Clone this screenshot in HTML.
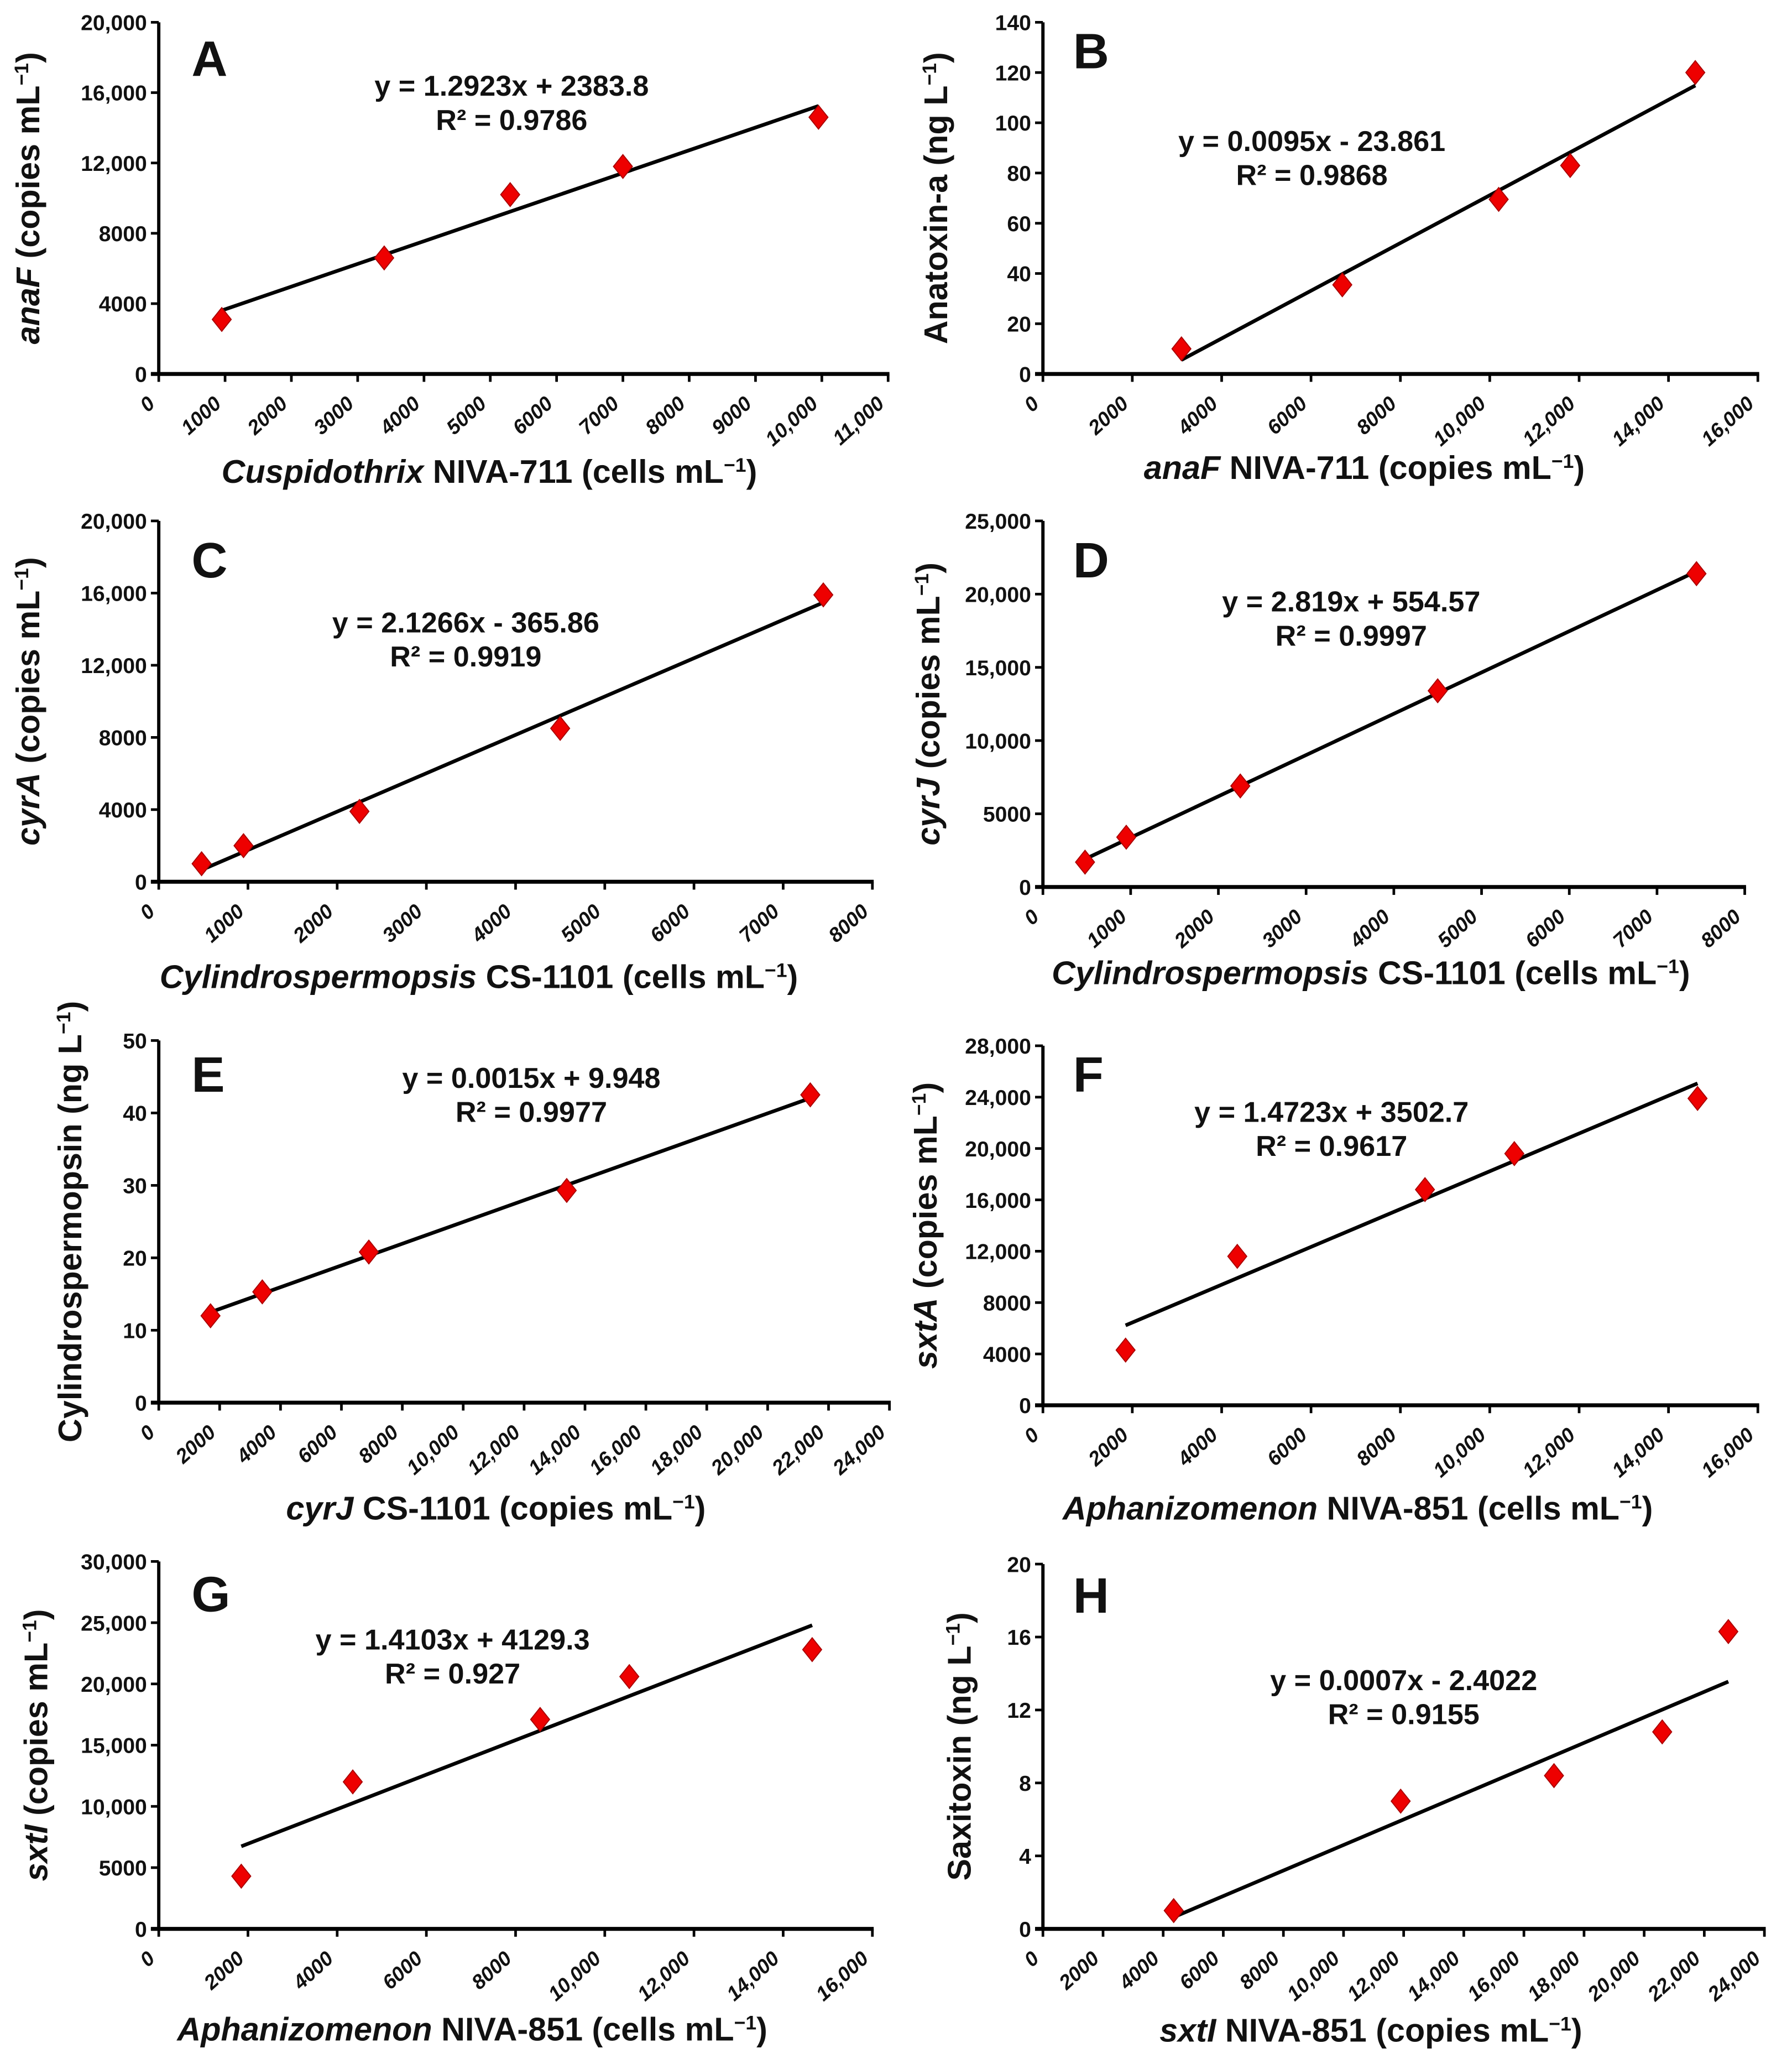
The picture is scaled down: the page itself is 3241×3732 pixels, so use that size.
<!DOCTYPE html>
<html><head><meta charset="utf-8"><style>
html,body{margin:0;padding:0;background:#fff;}
svg{display:block;}
text{font-family:"Liberation Sans",Arial,sans-serif;font-weight:bold;fill:#111;}
</style></head><body>
<svg id="fig" width="3241" height="3732" viewBox="0 0 1366 1573" xmlns="http://www.w3.org/2000/svg"></svg>
<script>
// ---- data ----
const panelIds = ["A","B","C","D","E","F","G","H"];
const xA = [950,3400,5300,7000,9950];        const yA = [3100,6600,10200,11800,14600];
const xB = [3100,6700,10200,11800,14600];    const yB = [10,35.5,69.5,83,120];
const xC = [480,950,2250,4500,7450];         const yC = [1000,2000,3900,8500,15900];
const xD = [480,950,2250,4500,7450];         const yD = [1700,3400,6900,13400,21400];
const xE = [1700,3400,6900,13400,21400];     const yE = [12,15.3,20.8,29.3,42.5];
const xF = [1850,4350,8550,10550,14650];     const yF = [4300,11600,16800,19600,23900];
const xG = [1850,4350,8550,10550,14650];     const yG = [4300,12000,17100,20600,22800];
const xH = [4350,11900,17000,20600,22800];   const yH = [1,7,8.4,10.8,16.3];
const slopes = [1.2923,0.0095,2.1266,2.819,0.0015,1.4723,1.4103,0.0007];
const intercepts = [2383.8,-23.861,-365.86,554.57,9.948,3502.7,4129.3,-2.4022];
const eqLabels = ["y = 1.2923x + 2383.8","y = 0.0095x - 23.861","y = 2.1266x - 365.86","y = 2.819x + 554.57","y = 0.0015x + 9.948","y = 1.4723x + 3502.7","y = 1.4103x + 4129.3","y = 0.0007x - 2.4022"];
const r2Labels = ["R² = 0.9786","R² = 0.9868","R² = 0.9919","R² = 0.9997","R² = 0.9977","R² = 0.9617","R² = 0.927","R² = 0.9155"];
const xTicksA = [0,1000,2000,3000,4000,5000,6000,7000,8000,9000,10000,11000];
const xTicksB = [0,2000,4000,6000,8000,10000,12000,14000,16000];
const xTicks8k = [0,1000,2000,3000,4000,5000,6000,7000,8000];
const xTicks24k = [0,2000,4000,6000,8000,10000,12000,14000,16000,18000,20000,22000,24000];
const yTicksA = [0,4000,8000,12000,16000,20000];
const yTicksB = [0,20,40,60,80,100,120,140];
const yTicksD = [0,5000,10000,15000,20000,25000];
const yTicksE = [0,10,20,30,40,50];
const yTicksF = [0,4000,8000,12000,16000,20000,24000,28000];
const yTicksG = [0,5000,10000,15000,20000,25000,30000];
const yTicksH = [0,4,8,12,16,20];

// ---- layout ----
const NS="http://www.w3.org/2000/svg";
const svg=document.getElementById('fig');
function mk(tag,attrs,parent){const e=document.createElementNS(NS,tag);for(const k in attrs)e.setAttribute(k,attrs[k]);(parent||svg).appendChild(e);return e;}
function fmt(v){return v>=10000?v.toLocaleString('en-US'):String(v);}

const panels=[
 {id:"A",xs:xA,ys:yA,xt:xTicksA,yt:yTicksA,px:[121,677],py:[17,285],let:[146,58],eq:[390,73],yt_x:30,ytitle:[["anaF",1],[" (copies mL",0],["−1",2],[")",0]],xtitle:[["Cuspidothrix",1],[" NIVA-711 (cells mL",0],["−1",2],[")",0]],xtc:373,xtY:368},
 {id:"B",xs:xB,ys:yB,xt:xTicksB,yt:yTicksB,px:[795,1340],py:[17,285],let:[818,52],eq:[1000,115],yt_x:722,ytitle:[["Anatoxin-a  (ng L",0],["−1",2],[")",0]],xtitle:[["anaF",1],[" NIVA-711 (copies mL",0],["−1",2],[")",0]],xtc:1040,xtY:365},
 {id:"C",xs:xC,ys:yC,xt:xTicks8k,yt:yTicksA,px:[121,665],py:[397,672],let:[146,440],eq:[355,482],yt_x:30,ytitle:[["cyrA",1],[" (copies mL",0],["−1",2],[")",0]],xtitle:[["Cylindrospermopsis",1],[" CS-1101 (cells mL",0],["−1",2],[")",0]],xtc:365,xtY:753},
 {id:"D",xs:xD,ys:yD,xt:xTicks8k,yt:yTicksD,px:[795,1330],py:[397,676],let:[818,440],eq:[1030,466],yt_x:716,ytitle:[["cyrJ",1],[" (copies mL",0],["−1",2],[")",0]],xtitle:[["Cylindrospermopsis",1],[" CS-1101 (cells mL",0],["−1",2],[")",0]],xtc:1045,xtY:750},
 {id:"E",xs:xE,ys:yE,xt:xTicks24k,yt:yTicksE,px:[121,678],py:[793,1069],let:[146,832],eq:[405,829],yt_x:62,ytitle:[["Cylindrospermopsin (ng L",0],["−1",2],[")",0]],xtitle:[["cyrJ",1],[" CS-1101 (copies mL",0],["−1",2],[")",0]],xtc:378,xtY:1158},
 {id:"F",xs:xF,ys:yF,xt:xTicksB,yt:yTicksF,px:[795,1340],py:[797,1071],let:[818,832],eq:[1015,855],yt_x:714,ytitle:[["sxtA",1],[" (copies mL",0],["−1",2],[")",0]],xtitle:[["Aphanizomenon",1],[" NIVA-851 (cells mL",0],["−1",2],[")",0]],xtc:1035,xtY:1158},
 {id:"G",xs:xG,ys:yG,xt:xTicksB,yt:yTicksG,px:[121,665],py:[1190,1470],let:[146,1228],eq:[345,1257],yt_x:36,ytitle:[["sxtI",1],[" (copies mL",0],["−1",2],[")",0]],xtitle:[["Aphanizomenon",1],[" NIVA-851 (cells mL",0],["−1",2],[")",0]],xtc:360,xtY:1555},
 {id:"H",xs:xH,ys:yH,xt:xTicks24k,yt:yTicksH,px:[795,1345],py:[1192,1470],let:[818,1229],eq:[1070,1288],yt_x:740,ytitle:[["Saxitoxin (ng L",0],["−1",2],[")",0]],xtitle:[["sxtI",1],[" NIVA-851 (copies mL",0],["−1",2],[")",0]],xtc:1045,xtY:1556},
];

function richText(parts,attrs,parent){
  const t=mk('text',attrs,parent);
  parts.forEach(p=>{
    const s=document.createElementNS(NS,'tspan');
    s.textContent=p[0];
    if(p[1]===1)s.setAttribute('font-style','italic');
    if(p[1]===2){s.setAttribute('baseline-shift','super');s.setAttribute('font-size','15');}
    t.appendChild(s);
  });
  return t;
}

panels.forEach((P,i)=>{
  const g=mk('g',{});
  
  
  const xmin=P.xt[0],xmax=P.xt[P.xt.length-1],ymin=P.yt[0],ymax=P.yt[P.yt.length-1];
  const X=v=>P.px[0]+(v-xmin)/(xmax-xmin)*(P.px[1]-P.px[0]);
  const Y=v=>P.py[1]-(v-ymin)/(ymax-ymin)*(P.py[1]-P.py[0]);
  const ya=mk('line',{x1:P.px[0],y1:P.py[0],x2:P.px[0],y2:P.py[1],stroke:'#000','stroke-width':2.5},g);
  
  
  const xa=mk('line',{x1:P.px[0]-6,y1:P.py[1],x2:P.px[1]+1,y2:P.py[1],stroke:'#000','stroke-width':3},g);
  
  
  P.yt.forEach(v=>{
    mk('line',{x1:P.px[0]-6,y1:Y(v),x2:P.px[0],y2:Y(v),stroke:'#000','stroke-width':2},g);
    const t=mk('text',{x:P.px[0]-9,y:Y(v)+6,'text-anchor':'end','font-size':16.5},g);
    t.textContent=fmt(v);
    
    
  });
  P.xt.forEach(v=>{
    mk('line',{x1:X(v),y1:P.py[1],x2:X(v),y2:P.py[1]+6,stroke:'#000','stroke-width':2},g);
    const tx=X(v)-2, ty=P.py[1]+24;
    const t=mk('text',{x:tx,y:ty,'text-anchor':'end','font-size':15.5,'font-style':'italic',transform:`rotate(-42 ${tx} ${ty})`},g);
    t.textContent=fmt(v);
    
    
  });
  const x0=P.xs[0],x1=P.xs[P.xs.length-1];
  const tl=mk('line',{x1:X(x0),y1:Y(slopes[i]*x0+intercepts[i]),x2:X(x1),y2:Y(slopes[i]*x1+intercepts[i]),stroke:'#000','stroke-width':2.8},g);
  
  
  P.xs.forEach((xv,k)=>{
    const cx=X(xv),cy=Y(P.ys[k]),r=9;
    const d=mk('polygon',{points:`${cx},${cy-r} ${cx+r*0.8},${cy} ${cx},${cy+r} ${cx-r*0.8},${cy}`,fill:'#ee0000',stroke:'#a00','stroke-width':0.8},g);
    
    
  });
  const L=mk('text',{x:P.let[0],y:P.let[1],'font-size':38},g);L.textContent=P.id;
  
  
  const e1=mk('text',{x:P.eq[0],y:P.eq[1],'text-anchor':'middle','font-size':22},g);e1.textContent=eqLabels[i];
  
  
  const e2=mk('text',{x:P.eq[0],y:P.eq[1]+26,'text-anchor':'middle','font-size':22},g);e2.textContent=r2Labels[i];
  
  
  const cy=(P.py[0]+P.py[1])/2;
  const yt=richText(P.ytitle,{x:P.yt_x,y:cy,'text-anchor':'middle','font-size':25,transform:`rotate(-90 ${P.yt_x} ${cy})`},g);
  
  
  const xt=richText(P.xtitle,{x:P.xtc,y:P.xtY,'text-anchor':'middle','font-size':25},g);
  
  
});
</script>
</body></html>
